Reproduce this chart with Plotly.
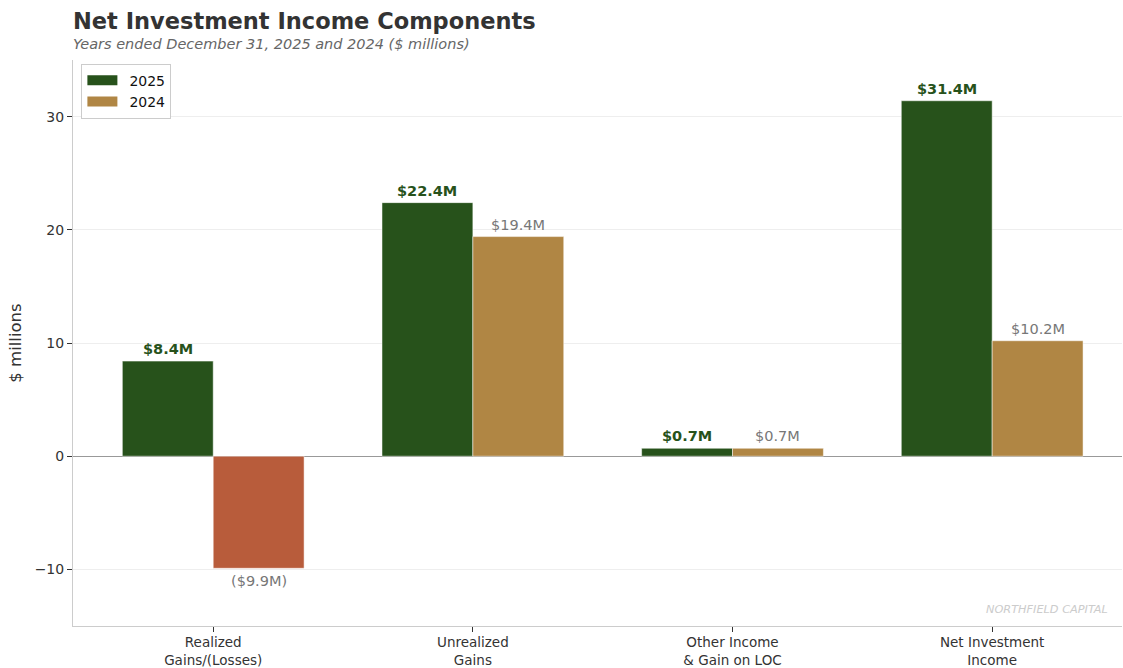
import plotly.graph_objects as go

# Income components, $ millions
categories = ["Realized<br>Gains/(Losses)", "Unrealized<br>Gains",
              "Other Income<br>& Gain on LOC", "Net Investment<br>Income"]
values_2025 = [8.4, 22.4, 0.7, 31.4]
values_2024 = [-9.9, 19.4, 0.7, 10.2]
y_ticks = [-10, 0, 10, 20, 30]

GREEN = "#27521B"
TAN = "#B08644"
RUST = "#B85C3B"
BAR_W = 0.35
FONT = "DejaVu Sans"

def money(v):
    return f"(${abs(v):.1f}M)" if v < 0 else f"${v:.1f}M"

xs = list(range(len(categories)))

fig = go.Figure()
fig.add_trace(go.Bar(
    x=xs, y=values_2025, name="2025", width=BAR_W, offset=-BAR_W,
    showlegend=False,
    marker=dict(color=GREEN, line=dict(color="white", width=0.5)),
    hoverinfo="skip",
))
fig.add_trace(go.Bar(
    x=xs, y=values_2024, name="2024", width=BAR_W, offset=0, showlegend=False,
    marker=dict(color=[RUST if v < 0 else TAN for v in values_2024],
                line=dict(color="white", width=0.5)),
    hoverinfo="skip",
))
# legend swatches (wide patches rather than the default small squares)
for name, color in (("2025", GREEN), ("2024", TAN)):
    fig.add_trace(go.Scatter(
        x=[None], y=[None], name="\u2002" + name, mode="lines",
        line=dict(color=color, width=11), hoverinfo="skip",
    ))

annotations = []
for x, v in zip(xs, values_2025):
    annotations.append(dict(
        x=x - BAR_W / 2, y=v, xref="x", yref="y", text=f"<b>{money(v)}</b>",
        showarrow=False, yanchor="bottom" if v >= 0 else "top",
        yshift=2 if v >= 0 else -3,
        font=dict(family=FONT, size=14.5, color=GREEN),
    ))
for x, v in zip(xs, values_2024):
    annotations.append(dict(
        x=x + BAR_W / 2, y=v, xref="x", yref="y", text=money(v),
        showarrow=False, yanchor="bottom" if v >= 0 else "top",
        yshift=2 if v >= 0 else -3,
        font=dict(family=FONT, size=14.5, color="#777777"),
    ))

# title, subtitle, watermark
annotations += [
    dict(x=0, y=1 + 39 / 566, xref="paper", yref="paper", xanchor="left",
         yanchor="middle", showarrow=False, xshift=-2,
         text="<b>Net Investment Income Components</b>",
         font=dict(family=FONT, size=22.5, color="#333333")),
    dict(x=0, y=1 + 16 / 566, xref="paper", yref="paper", xanchor="left",
         yanchor="middle", showarrow=False, xshift=-2,
         text="<i>Years ended December 31, 2025 and 2024 ($ millions)</i>",
         font=dict(family=FONT, size=14.5, color="#666666")),
    dict(x=0.9886, y=0.03, xref="paper", yref="paper", xanchor="right",
         yanchor="middle", showarrow=False,
         text="<i>NORTHFIELD CAPITAL</i>",
         font=dict(family=FONT, size=11.3, color="#CCCCCC")),
]

fig.update_layout(
    width=1123, height=668,
    margin=dict(l=73, r=1, t=60, b=42, autoexpand=False),
    paper_bgcolor="white", plot_bgcolor="white",
    barmode="overlay",
    font=dict(family=FONT, size=14, color="#333333"),
    showlegend=True,
    legend=dict(x=0.008, y=0.9935, xanchor="left", yanchor="top",
                bordercolor="#CCCCCC", borderwidth=1, bgcolor="white",
                font=dict(family=FONT, size=14, color="#111111"),
                traceorder="normal", tracegroupgap=0, itemwidth=30),
    annotations=annotations,
    xaxis=dict(
        range=[-0.54, 3.5], tickvals=xs, ticktext=categories,
        automargin=False,
        showgrid=False, zeroline=False, showline=True, linecolor="#CCCCCC",
        linewidth=1, ticks="outside", ticklen=5, tickcolor="#333333",
        ticklabelstandoff=-1,
        tickfont=dict(size=13.5, color="#333333"),
    ),
    yaxis=dict(
        range=[-15, 35], tickvals=y_ticks, showgrid=True, gridcolor="#EEEEEE",
        automargin=False,
        gridwidth=1, zeroline=True, zerolinecolor="#999999", zerolinewidth=1,
        showline=True, linecolor="#CCCCCC", linewidth=1,
        ticks="outside", ticklen=5, tickcolor="#333333",
        tickfont=dict(size=14, color="#333333"),
        title=dict(text="$ millions", font=dict(size=16.5, color="#333333"),
                   standoff=8),
    ),
)

fig.write_html("out.html")
